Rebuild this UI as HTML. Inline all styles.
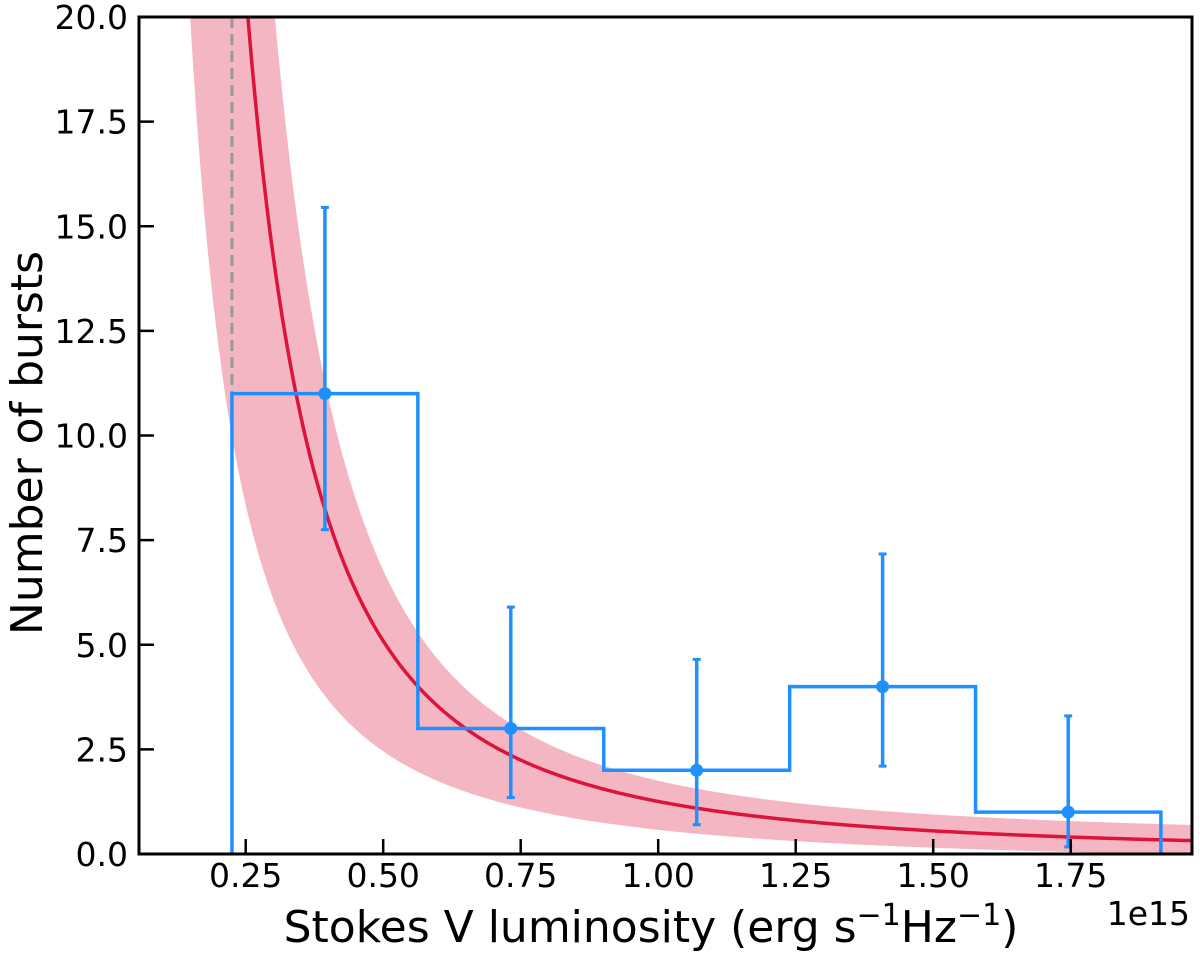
<!DOCTYPE html>
<html><head><meta charset="utf-8"><style>
body{margin:0;background:#fff;}
svg text{font-family:"DejaVu Sans","Liberation Sans",sans-serif;fill:#000;}
</style></head><body>
<svg id="chart" width="1200" height="958">
<defs><clipPath id="clip"><rect x="139" y="17" width="1053" height="838"/></clipPath></defs>
<g id="band" clip-path="url(#clip)"></g>
<g id="fit" clip-path="url(#clip)"></g>
<g id="hist" clip-path="url(#clip)"></g>
<g id="err"></g>
<rect x="139" y="17" width="1053" height="837" fill="none" stroke="#000" stroke-width="3"/>
<g id="xticks"></g><g id="yticks"></g>
<text x="0" y="0" transform="translate(42,443) rotate(-90)" text-anchor="middle" font-size="44">Number of bursts</text>
<text x="651" y="942" text-anchor="middle" font-size="44">Stokes V luminosity (erg s<tspan dy="-17" font-size="30">−1</tspan><tspan dy="17">Hz</tspan><tspan dy="-17" font-size="30">−1</tspan><tspan dy="17">)</tspan></text>
<text x="1190" y="925" text-anchor="end" font-size="33">1e15</text>
</svg>
<script>
const binEdges=[0.225,0.563,0.901,1.239,1.577,1.914];
const counts=[11,3,2,4,1];
const errLow=[7.75,1.35,0.7,2.1,0.17];
const errHigh=[15.45,5.9,4.65,7.17,3.3];
const fitParams=[20,0.254,2.02,0];
const bandUpper=[19.6,0.303,2.24,0.4];
const bandLower=[20.3,0.149,1.65,-0.3];
const xTicks=[0.25,0.5,0.75,1.0,1.25,1.5,1.75];
const xTickLabels=["0.25","0.50","0.75","1.00","1.25","1.50","1.75"];
const yTicks=[0,2.5,5,7.5,10,12.5,15,17.5,20];
const yTickLabels=["0.0","2.5","5.0","7.5","10.0","12.5","15.0","17.5","20.0"];
const NS="http://www.w3.org/2000/svg";
const X=v=>108.2+550*v, Y=v=>854-41.85*v;
const curve=(p,L)=>p[0]*Math.pow(p[1]/L,p[2])+p[3];
function mk(t,a,p){const e=document.createElementNS(NS,t);for(const k in a)e.setAttribute(k,a[k]);document.getElementById(p).appendChild(e);return e;}
let up=[],lo=[];
for(let L=0.1;L<=2.0;L+=0.004){up.push(X(L)+","+Math.max(-50,Y(curve(bandUpper,L))));lo.push(X(L)+","+Math.max(-50,Y(curve(bandLower,L))));}
let b=mk("polygon",{points:up.concat(lo.reverse()).join(" "),fill:"#f4b6c2"},"band");


let fp=[];
for(let L=0.2;L<=2.0;L+=0.004)fp.push(X(L)+","+Math.max(-50,Y(curve(fitParams,L))));
let f=mk("polyline",{points:fp.join(" "),fill:"none",stroke:"#dc143c","stroke-width":3.5},"fit");


let dl=mk("line",{x1:X(binEdges[0]),x2:X(binEdges[0]),y1:17,y2:Y(counts[0]),stroke:"#999","stroke-width":3,"stroke-dasharray":"11,6"},"hist");


let hp="M"+X(binEdges[0])+","+Y(0);
counts.forEach((c,i)=>{hp+=" L"+X(binEdges[i])+","+Y(c)+" L"+X(binEdges[i+1])+","+Y(c);});
hp+=" L"+X(binEdges[5])+","+Y(0);
let h=mk("path",{d:hp,fill:"none",stroke:"#1e90ff","stroke-width":3.5},"hist");


counts.forEach((c,i)=>{
 const cx=X((binEdges[i]+binEdges[i+1])/2);
 const g=mk("g",{},"err");
 
 
 mk("line",{x1:cx,x2:cx,y1:Y(errLow[i]),y2:Y(errHigh[i]),stroke:"#1e90ff","stroke-width":3.5},"err");
 mk("line",{x1:cx-4,x2:cx+4,y1:Y(errLow[i]),y2:Y(errLow[i]),stroke:"#1e90ff","stroke-width":3},"err");
 mk("line",{x1:cx-4,x2:cx+4,y1:Y(errHigh[i]),y2:Y(errHigh[i]),stroke:"#1e90ff","stroke-width":3},"err");
 const p=mk("circle",{cx:cx,cy:Y(c),r:6.5,fill:"#1e90ff"},"err");
 
 
});
xTicks.forEach((v,i)=>{
 mk("line",{x1:X(v),x2:X(v),y1:854,y2:839,stroke:"#000","stroke-width":2.5},"xticks");
 const t=mk("text",{x:X(v),y:887,"text-anchor":"middle","font-size":33},"xticks");t.textContent=xTickLabels[i];
 
 
});
yTicks.forEach((v,i)=>{
 mk("line",{x1:139,x2:154,y1:Y(v),y2:Y(v),stroke:"#000","stroke-width":2.5},"yticks");
 const t=mk("text",{x:128,y:Y(v)+12,"text-anchor":"end","font-size":33},"yticks");t.textContent=yTickLabels[i];
 
 
});
</script>
</body></html>
